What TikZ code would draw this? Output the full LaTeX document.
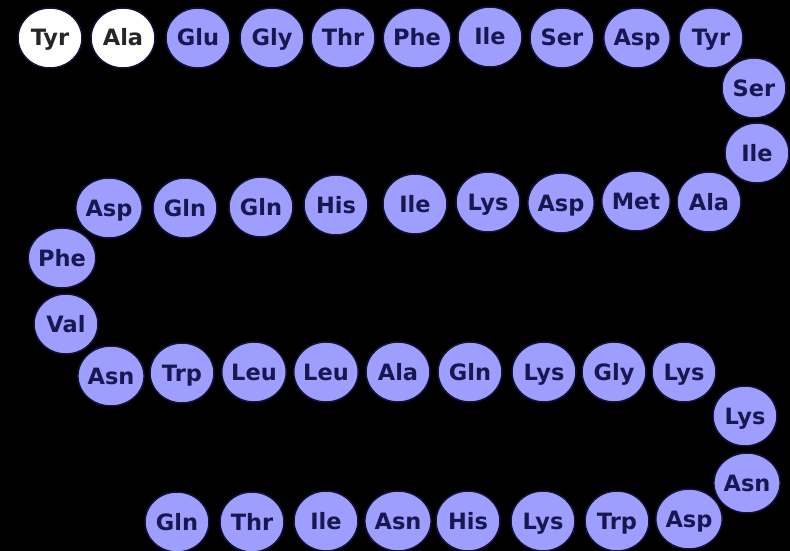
\documentclass[tikz,border=0pt]{standalone}
\usepackage{fontspec}
\setmainfont{DejaVu Sans}
\usetikzlibrary{shapes.geometric}
\definecolor{bead}{RGB}{158,158,255}
\definecolor{ink}{RGB}{24,24,80}
\definecolor{ring}{RGB}{18,18,55}
\tikzset{
  aa/.style={ellipse, minimum width=64pt, minimum height=60pt, inner sep=0pt,
    fill=bead, draw=ring, line width=1.5pt, text=ink,
    text height=16pt, text depth=0pt,
    font=\bfseries\fontsize{22.5}{22.5}\selectfont},
  aw/.style={aa, fill=white, text=black!85}
}
\begin{document}
\begin{tikzpicture}[x=1pt,y=-1pt]
\fill[black] (0,0) rectangle (790,551);
\useasboundingbox (0,0) rectangle (790,551);
% row 1
\node[aw] (a1) at (50,38) {Tyr};
\node[aw] (a2) at (123,38) {Ala};
\node[aa] (a3) at (198,38) {Glu};
\node[aa] (a4) at (272,38) {Gly};
\node[aa] (a5) at (343,38) {Thr};
\node[aa] (a6) at (417,38) {Phe};
\node[aa] (a7) at (490,37) {Ile};
\node[aa] (a8) at (562,38) {Ser};
\node[aa] (a9) at (637,38) {Asp};
\node[aa] (a10) at (711,38) {Tyr};
\node[aa] (a11) at (754,88) {Ser};
\node[aa] (a12) at (757,153) {Ile};
% row 2
\node[aa] (a13) at (709,202) {Ala};
\node[aa] (a14) at (636,201) {Met};
\node[aa] (a15) at (561,203) {Asp};
\node[aa] (a16) at (488,202) {Lys};
\node[aa] (a17) at (415,204) {Ile};
\node[aa] (a18) at (336,205) {His};
\node[aa] (a19) at (261,207) {Gln};
\node[aa] (a20) at (185,208) {Gln};
\node[aa] (a21) at (109,208) {Asp};
\node[aa] (a22) at (62,258) {Phe};
\node[aa] (a23) at (66,324) {Val};
% row 3
\node[aa] (a24) at (111,376) {Asn};
\node[aa] (a25) at (182,373) {Trp};
\node[aa] (a26) at (254,372) {Leu};
\node[aa] (a27) at (326,372) {Leu};
\node[aa] (a28) at (398,372) {Ala};
\node[aa] (a29) at (470,372) {Gln};
\node[aa] (a30) at (544,372) {Lys};
\node[aa] (a31) at (614,372) {Gly};
\node[aa] (a32) at (684,372) {Lys};
\node[aa] (a33) at (745,416) {Lys};
\node[aa] (a34) at (747,483) {Asn};
% row 4
\node[aa] (a35) at (689,519) {Asp};
\node[aa] (a36) at (617,521) {Trp};
\node[aa] (a37) at (543,521) {Lys};
\node[aa] (a38) at (468,521) {His};
\node[aa] (a39) at (398,521) {Asn};
\node[aa] (a40) at (326,521) {Ile};
\node[aa] (a41) at (252,522) {Thr};
\node[aa] (a42) at (177,522) {Gln};
\end{tikzpicture}
\end{document}
